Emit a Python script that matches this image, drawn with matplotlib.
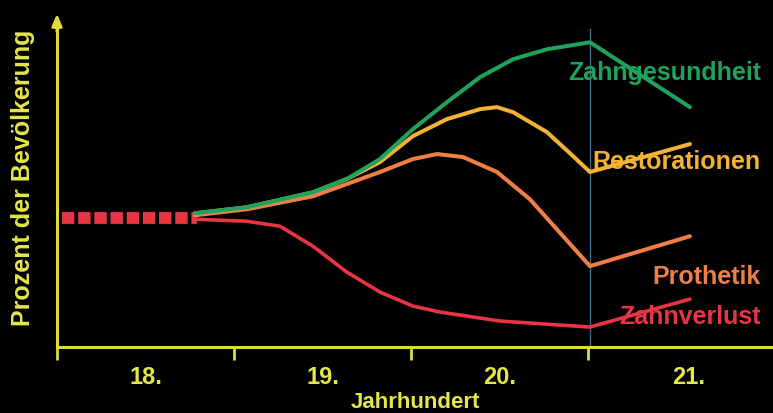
import matplotlib
matplotlib.use("Agg")
import matplotlib.pyplot as plt

# ---- data ----
century_ticks = [1700, 1800, 1900, 2000]
century_label_pos = [1750, 1850, 1950, 2057]
century_labels = ["18.", "19.", "20.", "21."]

dashed_x = [1703, 1779]
dashed_y = [38.7, 38.7]

green_x = [1778, 1807.3, 1844.6, 1863.8, 1882.5, 1901.1, 1920.3, 1939.0, 1957.6, 1976.8, 2001.1, 2057.6]
green_y = [40.2, 42.0, 46.5, 50.5, 56.5, 65.5, 73.6, 81.1, 86.5, 89.5, 91.6, 72.1]

yellow_x = [1778, 1807.3, 1844.6, 1863.8, 1882.5, 1901.1, 1920.3, 1939.0, 1948.6, 1957.6, 1976.8, 1991.5, 2001.1, 2057.6]
yellow_y = [40.2, 42.0, 46.5, 50.5, 55.6, 63.4, 68.5, 71.5, 72.1, 70.6, 64.6, 57.4, 52.6, 61.0]

orange_x = [1778, 1807.3, 1844.6, 1863.8, 1882.5, 1901.1, 1914.7, 1929.4, 1948.6, 1967.2, 1985.9, 2001.1, 2057.6]
orange_y = [39.6, 41.4, 45.3, 49.0, 52.6, 56.5, 58.0, 57.1, 52.6, 44.4, 33.3, 24.3, 33.3]

red_x = [1778, 1807.3, 1826.0, 1844.6, 1863.8, 1882.5, 1901.1, 1916.4, 1950.3, 2001.1, 2057.6]
red_y = [38.4, 37.8, 36.3, 30.3, 22.5, 16.5, 12.3, 10.5, 7.8, 6.0, 14.4]

vline_x = 2001.1
vline_top = 95.5

series_labels = ["Zahngesundheit", "Restorationen", "Prothetik", "Zahnverlust"]
label_y = [82.6, 55.9, 21.3, 9.3]

# ---- style ----
AX = "#dcdc3c"
TXT = "#e4e64a"
GREEN = "#1fa35c"
YELLOW = "#f2b233"
ORANGE = "#ef7f45"
RED = "#e83443"
FONT = "Liberation Sans"

W, H = 773, 414
fig = plt.figure(figsize=(W / 100, H / 100), dpi=100, facecolor="black")
left_px, bottom_px, top_px = 57, 348, 12
ax = fig.add_axes([left_px / W, (H - bottom_px) / H, 1 - left_px / W, (bottom_px - top_px) / H])
ax.set_facecolor("black")
ax.set_xlim(1700, 2104.5)
ax.set_ylim(0, 101)

for s in ["top", "right"]:
    ax.spines[s].set_visible(False)
for s in ["left", "bottom"]:
    ax.spines[s].set_color(AX)
    ax.spines[s].set_linewidth(2.2)
ax.spines["left"].set_bounds(0, 98)

ax.set_yticks([])
ax.set_xticks(century_ticks)
ax.set_xticklabels([])
ax.tick_params(axis="x", which="major", direction="out", length=9, width=2, color=AX)
ax.set_xticks(century_label_pos, minor=True)
ax.set_xticklabels(century_labels, minor=True, fontsize=17, fontweight="bold", color=TXT, family=FONT)
ax.tick_params(axis="x", which="minor", length=0, pad=13)

# arrow on y axis
ax.annotate("", xy=(1700, 101), xytext=(1700, 94), annotation_clip=False,
            arrowprops=dict(arrowstyle="-|>,head_length=0.7,head_width=0.3", color=AX, lw=2.2))

ax.set_xlabel("Jahrhundert", fontsize=16, fontweight="bold", color=TXT, family=FONT, labelpad=2)
fig.text(23 / W, 1 - 178 / H, "Prozent der Bevölkerung", rotation=90, ha="center", va="center",
         fontsize=18, fontweight="bold", color=TXT, family=FONT)

# vertical marker line
ax.plot([vline_x, vline_x], [0, vline_top], color="#3d6f8c", lw=1.0, zorder=2)

# dashed start
ax.plot(dashed_x, dashed_y, color=RED, lw=8.5, dashes=(1.05, 0.32), solid_capstyle="butt",
        dash_capstyle="butt", zorder=4)

kw = dict(solid_joinstyle="round", solid_capstyle="round", zorder=5)
ax.plot(red_x, red_y, color=RED, lw=2.6, **kw)
ax.plot(orange_x, orange_y, color=ORANGE, lw=2.9, **kw)
ax.plot(yellow_x, yellow_y, color=YELLOW, lw=2.9, **kw)
ax.plot(green_x, green_y, color=GREEN, lw=2.9, **kw)

colors = [GREEN, YELLOW, ORANGE, RED]
for lab, yv, c in zip(series_labels, label_y, colors):
    ax.text(2097.7, yv, lab, ha="right", va="center", fontsize=18, fontweight="bold",
            color=c, family=FONT, zorder=3)

fig.savefig("out.png", dpi=100, facecolor="black")
